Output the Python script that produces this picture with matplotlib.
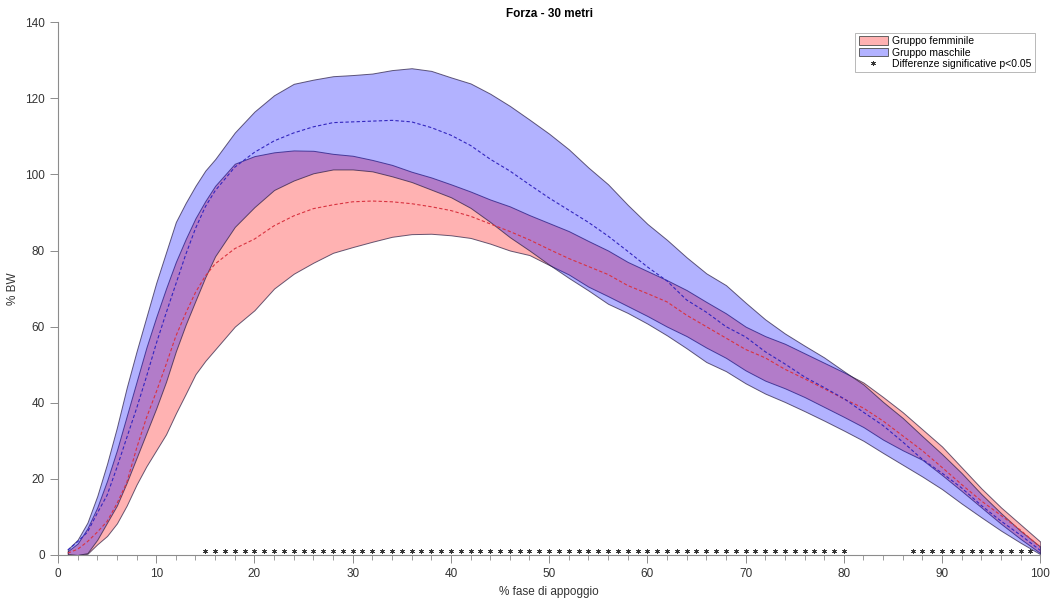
import numpy as np
import matplotlib
matplotlib.use('Agg')
import matplotlib.pyplot as plt
from matplotlib.patches import Patch
from matplotlib.lines import Line2D
from matplotlib.ticker import MultipleLocator

plt.rcParams['font.family'] = ['Liberation Sans', 'DejaVu Sans']

# % fase di appoggio
x = [1, 2, 3, 4, 5, 6, 7, 8, 9, 10, 11, 12, 13, 14, 15, 16, 18, 20, 22, 24, 26, 28, 30,
     32, 34, 36, 38, 40, 42, 44, 46, 48, 50, 52, 54, 56, 58, 60, 62, 64, 66, 68, 70,
     72, 74, 76, 78, 80, 82, 84, 86, 88, 90, 92, 94, 96, 98, 100]

# gruppo maschile (blue)
male_upper = [1.5, 4, 8.5, 15.5, 24, 33.5, 44, 53.5, 62.5, 71.5, 79.5, 87.5, 92.5, 97, 101, 104,
              111, 116.5, 120.8, 123.8, 124.9, 125.8, 126.1, 126.5, 127.4, 127.9, 127.2, 125.5,
              123.9, 121.2, 118, 114.4, 110.7, 106.6, 101.8, 97.4, 92, 87, 82.8, 78.2, 74, 70.9,
              66.3, 61.9, 58.2, 55, 51.9, 48.3, 44.8, 40.2, 36, 31.2, 26.5, 21.5, 16, 11, 6.3, 2.2]
male_mean = [1.3, 3.5, 6, 11, 15.7, 23, 30.8, 38.5, 46.8, 55.5, 63.5, 71.2, 78.9, 85.8, 91.5, 95.7,
             101.9, 105.8, 108.8, 110.9, 112.5, 113.6, 113.8, 114, 114.2, 113.8, 112.3, 110.3,
             107.6, 104, 100.9, 97.3, 93.8, 90.6, 87.4, 83.8, 79.8, 75.7, 72, 67, 63.8, 60,
             57.3, 53.4, 50.2, 46.8, 44, 41.1, 37.5, 34, 29.7, 25.1, 21.5, 17.6, 13, 8.9, 5.2, 1.2]
male_lower = [0.3, 0, 0.5, 4, 8.5, 13, 19, 25.5, 32, 38.5, 45.5, 53.5, 60.5, 66.8, 73, 78.5,
              86.2, 91.4, 95.9, 98.4, 100.3, 101.3, 101.3, 100.8, 99.5, 98, 96, 94,
              91.2, 87.5, 83.5, 80, 76.3, 72.8, 69.5, 66, 63.6, 60.8, 57.7, 54.3, 50.7, 48.3,
              45.1, 42.4, 40.2, 37.8, 35.3, 32.7, 30, 26.8, 23.7, 20.6, 17.3, 13.5, 9.9, 6.4, 3.2, 0.2]

# gruppo femminile (red)
female_upper = [1, 3, 7, 12.5, 19.5, 27.5, 36.5, 45.5, 54.5, 62.5, 70, 77, 83, 88.5, 93, 97,
                102.8, 104.8, 105.8, 106.3, 106.2, 105.4, 104.9, 103.8, 102.5, 100.7, 99.2, 97.4,
                95.5, 93.4, 91.6, 89.3, 87.2, 85.1, 82.5, 80, 77, 74.6, 72.2, 69.6, 66.5, 63.5,
                60, 57.5, 55.5, 53, 50.5, 48, 45.3, 41.5, 37.5, 33, 28.5, 23, 17.5, 12.5, 8, 3.5]
female_mean = [0.5, 1.5, 3.5, 6, 8.8, 13.5, 19, 28, 36, 42.8, 50, 57.5, 63.5, 69, 73.3, 76.5,
               80.5, 83, 86.5, 89.1, 91, 92, 92.8, 93, 92.8, 92.3, 91.5, 90.5,
               89, 87, 85, 82.8, 80.3, 77.9, 75.8, 73.7, 70.8, 68.7, 66.5, 63, 60, 57,
               54, 51.8, 48.8, 46.3, 43.7, 41, 38.6, 35.2, 31.3, 27.4, 23, 18.5, 14.2, 10.4, 6.5, 2]
female_lower = [0, 0, 0.3, 2.8, 5, 8.3, 13, 18.5, 23.3, 27.5, 31.7, 37.2, 42.3, 47.5, 51, 54,
                60, 64.3, 70, 73.9, 76.8, 79.4, 80.9, 82.3, 83.6, 84.3, 84.4, 84,
                83.3, 81.8, 80, 78.8, 76.2, 73.7, 70.5, 68, 65.4, 62.8, 60, 57.5, 54.5, 51.8,
                48.5, 45.8, 43.8, 41.5, 38.9, 36.3, 33.6, 30.3, 27.5, 25, 21, 16.8, 12.5, 8.2, 4.2, 0.5]

# differenze significative (first and last % of each run)
sig_runs = [(15, 80), (87, 99)]
sig_level = 1

sig_x = np.concatenate([np.arange(a, b + 1) for a, b in sig_runs])

fig = plt.figure(figsize=(10.54, 5.99), dpi=100)
ax = fig.add_axes([0.055, 0.0735, 0.932, 0.8895])

edge = (0.15, 0.1, 0.25, 0.7)
ax.fill_between(x, female_lower, female_upper, facecolor=(1, 0, 0, 0.3), edgecolor=edge, linewidth=0.7)
ax.fill_between(x, male_lower, male_upper, facecolor=(0, 0, 1, 0.3), edgecolor=edge, linewidth=0.7)
ax.plot(x, female_mean, '--', color=(0.85, 0.2, 0.25), linewidth=0.8, dashes=(3, 2))
ax.plot(x, male_mean, '--', color=(0.2, 0.15, 0.75), linewidth=0.8, dashes=(3, 2))
# small asterisks along the x axis
ax.plot(sig_x, np.full(len(sig_x), sig_level), linestyle='none', marker=(6, 2, 0),
        color='#333333', markersize=3.5, markeredgewidth=0.5)

ax.set_xlim(0, 100)
ax.set_ylim(0, 140)
ax.xaxis.set_major_locator(MultipleLocator(10))
ax.xaxis.set_minor_locator(MultipleLocator(2))
ax.yaxis.set_major_locator(MultipleLocator(20))

for s in ['top', 'right']:
    ax.spines[s].set_visible(False)
for s in ['left', 'bottom']:
    ax.spines[s].set_color('#8c8c8c')
    ax.spines[s].set_linewidth(0.8)
ax.tick_params(which='major', direction='out', length=6, width=0.7, color='#8c8c8c',
               labelsize=8.5, labelcolor='#333333')
ax.tick_params(which='minor', direction='out', length=3.5, width=0.6, color='#8c8c8c')

ax.set_title('Forza - 30 metri', fontsize=8.5, fontweight='bold', pad=4)
ax.set_xlabel('% fase di appoggio', fontsize=8.5, color='#333333', labelpad=4)
ax.set_ylabel('% BW', fontsize=8.5, color='#333333')
ax.yaxis.set_label_coords(-0.04, 0.5)

handles = [Patch(facecolor=(1, 0, 0, 0.3), edgecolor=(0.3, 0.3, 0.3), linewidth=0.6),
           Patch(facecolor=(0, 0, 1, 0.3), edgecolor=(0.3, 0.3, 0.3), linewidth=0.6),
           Line2D([], [], linestyle='none', marker=(6, 2, 0), color='#333333',
                  markersize=3.5, markeredgewidth=0.5)]
labels = ['Gruppo femminile', 'Gruppo maschile', 'Differenze significative p<0.05']
leg = ax.legend(handles, labels, loc='upper right', bbox_to_anchor=(1.0, 0.99), fontsize=7.5,
                frameon=True, fancybox=False, edgecolor='#999999', handlelength=2.8,
                handleheight=0.9, labelspacing=0.12, borderpad=0.35, handletextpad=0.4)
leg.get_frame().set_linewidth(0.6)

fig.savefig('out.png', dpi=100)
